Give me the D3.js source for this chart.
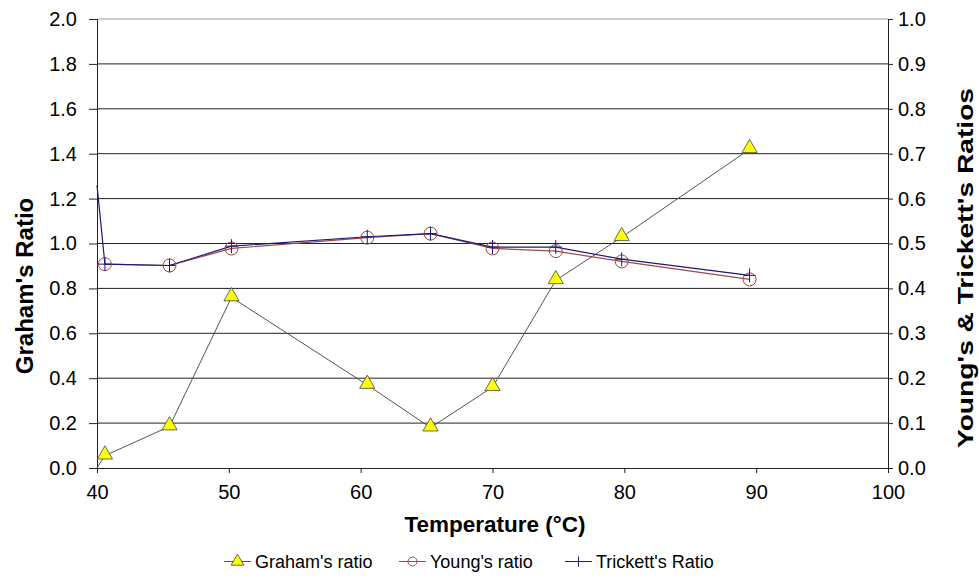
<!DOCTYPE html>
<html>
  <head>
    <meta charset='UTF-8'/>
    <script src="https://cdn.jsdelivr.net/npm/d3@7"></script>
    <style>
      body { margin: 0; background: #fff; }
      text { font-family: "Liberation Sans", Arial, sans-serif; fill: #000; }
      .tick text { font-size: 20px; }
      .title { font-weight: bold; }
      .legend text { font-size: 18px; }
    </style>
  </head>
  <body>
    <svg id='fig' width='979' height='583'></svg>
    <script>
      // temperatures (°C) and ratios
      const temps    = [40.6, 45.5, 50.2, 60.5, 65.3, 70.0, 74.8, 79.8, 89.5]
      const graham   = [0.055, 0.185, 0.76, 0.37, 0.18, 0.36, 0.836, 1.028, 1.42]
      const young    = [0.454, 0.451, 0.489, 0.513, 0.522, 0.489, 0.483, 0.46, 0.42]
      const trickett = [0.454, 0.451, 0.494, 0.515, 0.522, 0.492, 0.492, 0.465, 0.429]
      // lines start at the axis (no marker there)
      const lineStart = {x: 40, graham: 0, trickett: 0.63}
      const xTicks = [40, 50, 60, 70, 80, 90, 100]
      const yLeftTicks = d3.range(0, 2.01, 0.2)
      const yRightTicks = d3.range(0, 1.01, 0.1)
      const seriesNames = ["Graham's ratio", "Young's ratio", "Trickett's Ratio"]

      const svg = d3.select('#fig')
      const L = 97, R = 888, T = 19, B = 468

      const x = d3.scaleLinear().domain([40, 100]).range([L, R])
      const yL = d3.scaleLinear().domain([0, 2]).range([B, T])
      const yR = d3.scaleLinear().domain([0, 1]).range([B, T])

      // gridlines
      svg.append('g').selectAll('line').data(yLeftTicks.slice(1)).join('line')
        .attr('x1', L).attr('x2', R)
        .attr('y1', d => yL(d)).attr('y2', d => yL(d))
        .attr('stroke', (d, i) => i == 9 ? '#999' : '#222').attr('stroke-width', 1)

      // axes
      const ax = svg.append('g').attr('transform', `translate(0,${B})`)
        .call(d3.axisBottom(x).tickValues(xTicks).tickSize(5).tickPadding(12).tickFormat(d3.format('d')))
      const ayl = svg.append('g').attr('transform', `translate(${L},0)`)
        .call(d3.axisLeft(yL).tickValues(yLeftTicks).tickSize(8).tickPadding(12).tickFormat(d3.format('.1f')))
      const ayr = svg.append('g').attr('transform', `translate(${R},0)`)
        .call(d3.axisRight(yR).tickValues(yRightTicks).tickSize(5).tickPadding(5).tickFormat(d3.format('.1f')))
      for (const a of [ax, ayl, ayr]) {
        a.select('.domain').attr('stroke', '#222')
        a.selectAll('.tick line').attr('stroke', '#222')
        a.attr('font-family', null).attr('font-size', null)
      }

      // series lines
      const gLine = d3.line().x(d => x(d[0])).y(d => yL(d[1]))
      const rLine = d3.line().x(d => x(d[0])).y(d => yR(d[1]))
      const gPts = [[lineStart.x, lineStart.graham]].concat(temps.map((t, i) => [t, graham[i]]))
      const yPts = temps.map((t, i) => [t, young[i]])
      const tPts = [[lineStart.x, lineStart.trickett]].concat(temps.map((t, i) => [t, trickett[i]]))

      svg.append('path').attr('d', gLine(gPts)).attr('fill', 'none').attr('stroke', '#555').attr('stroke-width', 1)
      svg.append('path').attr('d', rLine(yPts)).attr('fill', 'none').attr('stroke', '#a04848').attr('stroke-width', 1.2)
      svg.append('path').attr('d', rLine(tPts)).attr('fill', 'none').attr('stroke', '#1a1a7a').attr('stroke-width', 1.2)

      // markers
      const tri = d3.symbol().type(d3.symbolTriangle).size(100)
      svg.append('g').selectAll('path').data(temps).join('path')
        .attr('d', tri).attr('transform', (d, i) => `translate(${x(d)},${yL(graham[i]) - 1})`)
        .attr('fill', '#ffff00').attr('stroke', '#444').attr('stroke-width', 0.8)
      svg.append('g').selectAll('circle').data(temps).join('circle')
        .attr('cx', d => x(d)).attr('cy', (d, i) => yR(young[i])).attr('r', 6.5)
        .attr('fill', 'none').attr('stroke', '#a04848').attr('stroke-width', 1)
      svg.append('g').selectAll('path').data(temps).join('path')
        .attr('d', (d, i) => {
          const cx = x(d), cy = yR(trickett[i])
          return `M${cx - 6},${cy}H${cx + 6}M${cx},${cy - 7}V${cy + 7}`
        })
        .attr('stroke', '#1a1a7a').attr('stroke-width', 1)

      // titles
      svg.append('text').attr('class', 'title').attr('x', 495).attr('y', 532)
        .attr('font-size', 22.5).attr('text-anchor', 'middle').text('Temperature (°C)')
      svg.append('text').attr('class', 'title').attr('transform', 'translate(33,286) rotate(-90)')
        .attr('font-size', 24).attr('text-anchor', 'middle').text("Graham's Ratio")
      svg.append('text').attr('class', 'title').attr('transform', 'translate(973,268) rotate(-90)')
        .attr('font-size', 22).attr('text-anchor', 'middle')
        .attr('textLength', 360).attr('lengthAdjust', 'spacingAndGlyphs')
        .text("Young's & Trickett's Ratios")

      // legend
      const legX = [224, 399, 565]
      const lg = svg.append('g').attr('class', 'legend')
      seriesNames.forEach((name, i) => {
        const g = lg.append('g').attr('transform', `translate(${legX[i]},561.5)`)
        const col = ['#555', '#a04848', '#1a1a7a'][i]
        g.append('line').attr('x1', 0).attr('x2', 27).attr('stroke', col)
        if (i == 0) g.append('path').attr('d', d3.symbol().type(d3.symbolTriangle).size(70)).attr('transform', 'translate(13.5,0)')
          .attr('fill', '#ffff00').attr('stroke', '#444').attr('stroke-width', 0.8)
        if (i == 1) g.append('circle').attr('cx', 13.5).attr('r', 4.5).attr('fill', 'none').attr('stroke', col)
        if (i == 2) g.append('line').attr('x1', 13.5).attr('x2', 13.5).attr('y1', -5).attr('y2', 5).attr('stroke', col)
        g.append('text').attr('x', 31).attr('y', 6.5).text(name)
      })
    </script>
  </body>
</html>
